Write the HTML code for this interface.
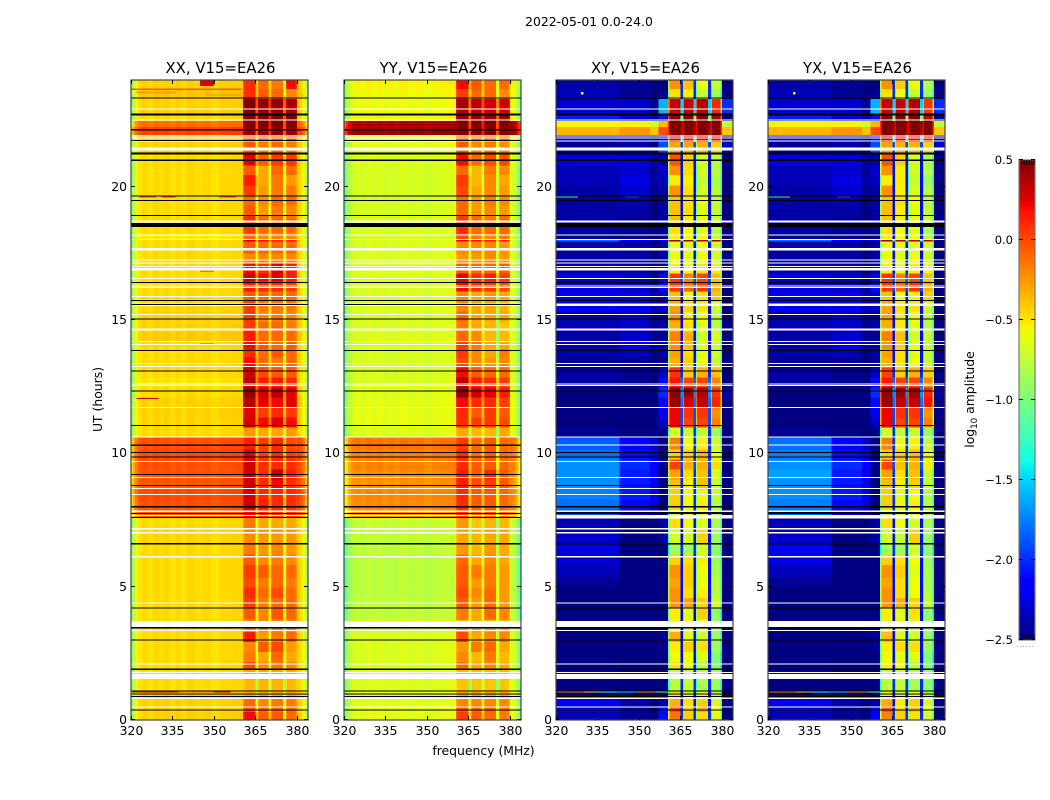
<!DOCTYPE html>
<html lang="en">
<head>
<meta charset="utf-8">
<title>2022-05-01 amplitude waterfall</title>
<style>
html,body{margin:0;padding:0;background:#fff;}
svg{display:block;}
text{font-family:"DejaVu Sans","Liberation Sans",sans-serif;fill:#000;}
</style>
</head>
<body>
<svg id="chart" xmlns="http://www.w3.org/2000/svg" width="1050" height="800" viewBox="0 0 1050 800">
  <text x="589" y="26" font-size="12.4" text-anchor="middle">2022-05-01 0.0-24.0</text>
  <text x="483.5" y="755" font-size="12.4" text-anchor="middle">frequency (MHz)</text>
  <text x="0" y="0" font-size="12.4" text-anchor="middle" transform="translate(102,399.5) rotate(-90)">UT (hours)</text>
  <text x="0" y="0" font-size="12.4" text-anchor="middle" transform="translate(974,399.5) rotate(-90)">log<tspan font-size="8.7" dy="3">10</tspan><tspan dy="-3"> amplitude</tspan></text>
</svg>
<script>
// ---- Axis data ----
const utEdges = [0,.30,.53,.83,1.05,1.50,1.88,2.18,2.55,2.93,3.30,3.76,4.21,4.58,4.96,5.33,5.82,6.20,6.61,7.13,7.59,7.89,8.26,8.64,9.01,9.39,9.76,10.14,10.59,10.97,11.34,11.72,12.09,12.47,12.84,13.22,13.59,13.89,14.19,14.57,14.95,15.32,15.70,16.07,16.45,16.75,17.12,17.50,17.95,18.03,18.25,18.48,18.93,19.30,19.68,20.05,20.43,20.80,21.22,21.67,21.93,22.23,22.46,22.68,23.28,23.66,24];
const freqEdges = [320,320.7,321.5,322.5,324,326,328,330,332,334,336,338,340,343,346,349,352,354,357,360.5,361,365,365.9,366.3,369.7,370.6,371,374.9,376,376.4,379.5,380,381,382,383,384];
const freqTicks = [320,335,350,365,380];
const utTicks = [0,5,10,15,20];
const colorbarTicks = [-2.5,-2,-1.5,-1,-0.5,0,0.5];

// Which per-row band each frequency column reads, and its bandpass offset
const parallelColumnBand = [0,0,0,0,0,0,0,0,0,0,0,0,0,0,0,0,0,0,0,1,1,1,2,2,2,3,3,3,4,4,4,0,0,0,0];
const parallelColumnOffset = [-.45,-.31,-.15,-.05,-.01,-.05,0,-.03,0,-.05,-.01,-.05,0,-.03,-.01,-.05,-.01,-.01,0,-.1,0,-.5,-.1,0,-.35,-.1,0,-.5,-.1,0,-.1,.02,-.03,-.15,-.35];
const crossColumnBand = [0,0,0,0,0,0,0,0,0,0,0,0,0,1,1,1,1,1,2,3,3,7,4,4,7,5,5,7,6,6,6,2,2,2,2];
const crossColumnOffset = [-.1,-.1,-.1,-.1,-.1,-.1,-.1,-.1,-.1,-.1,-.1,-.1,-.1,-.1,-.1,-.1,-.1,-.25,-.1,-.4,.12,0,-.3,.12,0,-.3,.12,0,-.3,.12,-.4,-.5,-.5,-.5,-.5];

// ---- Series: log10 amplitude per time block ----
// XX / YY rows: [low band, sub-band 1, 2, 3, 4]
const xxRows = [
[-.42,.2,-.05,-.05,-.1],[-.42,0,-.1,-.1,-.1],[-.42,-.1,-.2,-.15,-.15],[-.4,-.3,-.3,-.3,-.3],[-.45,-.35,-.35,-.35,-.35],
[-.45,-.3,-.3,-.3,-.3],[-.45,0,-.2,-.15,-.2],[-.45,-.15,-.3,-.1,-.3],[-.45,-.2,-.05,0,-.25],[-.45,.15,-.25,-.15,-.1],
[-.45,-.2,-.2,-.2,-.2],[-.45,-.05,-.2,-.05,-.1],[-.45,.05,-.15,-.1,-.1],[-.45,.1,-.1,0,-.1],[-.45,0,-.15,-.1,-.15],
[-.45,.05,-.05,-.1,-.1],[-.45,-.05,-.2,-.15,-.2],[-.45,-.15,-.25,-.2,-.25],[-.43,-.2,-.25,-.25,-.25],[-.45,-.15,-.3,-.3,-.3],
[-.05,.2,.1,.05,.05],[0,.3,.15,.1,.1],[.02,.3,.1,.1,.1],[-.02,.3,.1,.2,.1],[-.02,.3,.1,.3,.15],
[0,.3,.1,.1,.1],[.02,.25,.05,.1,.05],[0,.15,.05,.1,0],[-.45,-.25,-.3,-.3,-.25],[-.43,.3,.2,.25,.2],
[-.42,.25,.05,.1,.05],[-.42,.35,.25,.2,.25],[-.45,.45,.3,.35,.25],[-.48,.35,.15,.15,.1],[-.45,.3,0,-.05,-.05],
[-.45,.2,-.1,-.15,-.1],[-.45,.1,-.1,-.05,-.1],[-.45,.2,-.05,-.1,-.05],[-.4,.15,-.1,-.1,-.1],[-.42,.05,-.1,-.1,-.15],
[-.42,.05,-.2,-.15,-.2],[-.43,.05,-.15,-.15,-.15],[-.45,-.05,-.1,-.1,-.1],[-.45,.15,.1,.1,.05],[-.45,.3,.2,.25,.15],
[-.45,.2,.1,.25,.15],[-.45,-.2,-.2,-.2,-.2],[-.45,-.05,-.1,-.1,-.1],[-.45,.3,.2,.15,.15],[-.5,-.1,-.2,-.2,-.2],
[-.45,.05,-.1,-.1,-.1],[-.45,.1,-.1,-.1,-.1],[-.45,-.05,-.25,-.15,-.2],[-.45,-.1,-.2,-.1,-.1],[-.45,.05,-.25,-.15,-.15],
[-.45,.15,-.3,-.15,-.25],[-.45,-.05,-.3,-.1,-.1],[-.45,.25,-.05,.05,.05],[-.42,-.05,-.15,-.1,-.15],[-.4,0,0,0,0],
[.05,.45,.45,.45,.45],[-.1,.5,.5,.5,.5],[-.45,.5,.5,.5,.5],[-.42,.5,.45,.45,.4],[-.38,.1,-.05,-.1,-.2],[-.42,.1,-.1,-.15,.2]
];
const yyRows = [
[-.6,.05,-.05,-.1,-.15],[-.6,-.05,-.1,-.1,-.15],[-.6,-.2,-.2,-.2,-.2],[-.58,-.3,-.3,-.3,-.3],[-.62,-.4,-.4,-.4,-.4],
[-.62,-.35,-.35,-.35,-.35],[-.63,-.1,-.3,-.2,-.3],[-.63,-.2,-.35,-.15,-.35],[-.63,-.25,-.15,-.1,-.3],[-.63,0,-.3,-.2,-.2],
[-.66,-.3,-.3,-.3,-.3],[-.72,-.15,-.3,-.1,-.2],[-.72,-.05,-.25,-.1,-.25],[-.74,0,-.2,-.1,-.25],[-.74,-.05,-.25,-.15,-.25],
[-.74,-.05,-.15,-.15,-.25],[-.74,-.1,-.3,-.2,-.3],[-.74,-.25,-.35,-.25,-.3],[-.72,-.3,-.35,-.3,-.3],[-.7,-.25,-.4,-.35,-.35],
[-.22,.05,-.1,-.05,-.1],[-.19,.1,-.05,-.05,-.1],[-.17,.1,-.05,-.05,-.1],[-.22,.15,0,.05,-.05],[-.19,.15,-.05,.1,-.05],
[-.17,.1,-.05,-.05,-.1],[-.15,.1,-.1,-.05,-.1],[-.12,.05,-.1,-.05,-.1],[-.62,-.3,-.35,-.35,-.3],[-.6,.1,.05,.05,0],
[-.6,.1,-.05,.05,-.05],[-.6,.2,.1,.1,.05],[-.62,.45,.3,.25,.15],[-.64,.35,.15,.1,.05],[-.64,.2,-.05,-.1,-.1],
[-.65,0,-.2,-.25,-.2],[-.65,.05,-.2,-.3,-.15],[-.65,.05,-.15,-.3,-.3],[-.63,-.1,-.2,-.35,-.35],[-.63,-.15,-.3,-.35,-.4],
[-.63,-.1,-.3,-.3,-.3],[-.63,-.2,-.3,-.3,-.35],[-.63,-.2,-.3,-.25,-.3],[-.63,.2,.1,.05,0],[-.63,.25,.1,.15,.05],
[-.63,-.05,-.1,-.1,-.05],[-.63,-.25,-.25,-.2,-.25],[-.63,-.2,-.2,-.2,-.25],[-.63,.25,.2,.15,.15],[-.65,0,-.15,-.2,-.15],
[-.65,.1,-.1,-.1,-.1],[-.63,.05,-.1,-.15,-.1],[-.65,-.1,-.25,-.2,-.25],[-.65,-.1,-.25,-.15,-.2],[-.65,0,-.3,-.2,-.25],
[-.65,.05,-.35,-.2,-.3],[-.65,-.1,-.35,-.15,-.2],[-.63,.2,-.1,0,0],[-.6,-.05,-.2,-.15,-.2],[-.58,0,-.05,-.05,-.05],
[.45,.5,.5,.5,.5],[.4,.5,.5,.5,.5],[-.55,.45,.45,.45,.45],[-.57,.4,.35,.3,.3],[-.55,.05,-.1,-.1,-.2],[-.53,.2,-.05,-.1,-.1]
];
// XY / YX rows: [low-left, low-mid, low-right, sub-band 1, 2, 3, 4, band gaps]
const xyRows = [
[-2.25,-2.35,-2,-.25,-.55,-.6,-.75,-2],[-2.2,-2.3,-2,-.15,-.55,-.45,-.7,-2],[-2.1,-2.3,-2.3,-.45,-.6,-.55,-.8,-2.1],[-2.35,-2.45,-2.45,-.6,-.8,-.7,-.9,-2.1],[-2.4,-2.45,-2.45,-.9,-.85,-.95,-1,-2],
[-2.25,-2.45,-2.45,-.9,-.85,-.95,-1,-2],[-2.4,-2.45,-2.45,-.6,-.7,-.9,-1.1,-2.1],[-2.4,-2.45,-2.4,-.7,-.7,-.75,-1.1,-2.1],[-2.45,-2.4,-2.35,-.65,-.55,-.6,-1,-2.1],[-2.45,-2.4,-2.35,-.45,-.75,-.8,-1,-2.1],
[-2.45,-2.45,-2.45,-.7,-.7,-.7,-1,-2.2],[-2.45,-2.45,-2.45,-.65,-.75,-.55,-1.05,-2.2],[-2.45,-2.45,-2.45,-.35,-.4,-.55,-.8,-2.1],[-2.4,-2.45,-2.45,-.35,-.6,-.65,-.9,-2.1],[-2.35,-2.45,-2.45,-.4,-.55,-.7,-.9,-2.1],
[-2.25,-2.45,-2.45,-.35,-.55,-.7,-.95,-2.1],[-2.2,-2.45,-2.45,-.55,-.6,-.65,-1,-2.1],[-2.15,-2.45,-2.4,-1,-1,-.8,-1.05,-2],[-2.2,-2.4,-2.3,-.8,-.8,-.55,-1,-2.1],[-2.25,-2.4,-2.3,-.6,-.7,-.75,-.95,-2.1],
[-1.75,-2,-2.4,-.85,-.75,-.7,-.9,-2],[-1.7,-2,-2.4,-.55,-.7,-.65,-.9,-2],[-1.65,-1.95,-2.4,-.55,-.7,-.7,-.85,-2],[-1.6,-1.95,-2.4,-.5,-.65,-.5,-.85,-2],[-1.6,-1.95,-2.4,-.4,-.6,-.5,-.8,-2],
[-1.6,-1.9,-2.35,-.1,-.45,-.45,-.6,-1.9],[-1.7,-2,-2.4,-.55,-.55,-.45,-.7,-2],[-1.75,-2.05,-2.4,-.3,-.7,-.65,-.8,-2],[-2.35,-2.4,-2.4,-.8,-.85,-.85,-1,-2],[-2.45,-2.45,-2.2,.1,-.1,-.1,-.3,-1.9],
[-2.45,-2.45,-2.1,.1,-.05,-.05,-.35,-1.9],[-2.45,-2.4,-2,.3,.15,.2,0,-1.8],[-2.4,-2.4,-1.9,.35,.3,.25,-.05,-1.7],[-2.3,-2.35,-2,.05,-.1,-.1,-.3,-1.8],[-2.3,-2.35,-2.2,-.05,-.55,-.45,-.5,-2],
[-2.35,-2.35,-2.35,-.45,-.55,-.7,-.85,-2.1],[-2.3,-2.25,-2.3,-.4,-.6,-.75,-.8,-2.1],[-2.25,-2.15,-2.3,-.35,-.5,-.75,-.85,-2.1],[-2.3,-2.2,-2.35,-.3,-.45,-.8,-.8,-2.1],[-2.25,-2.2,-2.3,-.45,-.6,-.75,-.9,-2.1],
[-2.3,-2.2,-2.35,-.35,-.65,-.7,-.9,-2.1],[-2.05,-2.1,-2.2,-.4,-.55,-.6,-.8,-2.1],[-2.1,-2.1,-2.2,-.5,-.7,-.6,-.5,-2.1],[-2.15,-2.2,-2,-.05,-.2,-.05,-.45,-1.9],[-2.15,-2.2,-2.1,-.05,-.3,-.1,-.5,-1.9],
[-2.25,-2.3,-2.3,-.65,-.7,-.6,-.65,-2.1],[-2.3,-2.3,-2.3,-.7,-.75,-.7,-.8,-2.1],[-2.3,-2.3,-2.3,-.7,-.75,-.7,-.8,-2.1],[-1.7,-2.1,-2.2,.35,.3,.25,.3,-1.2],[-2.35,-2.35,-2.35,-.65,-.7,-.7,-.85,-2.1],
[-2.3,-2.35,-2.35,-.6,-.7,-.75,-.9,-2.1],[-2.3,-2.35,-2.3,-.5,-.65,-.7,-.85,-2.1],[-2.3,-2.3,-2.3,-.5,-.6,-.75,-.85,-2.1],[-2.3,-2.25,-2.3,-.5,-.6,-.7,-.85,-2.1],[-2.3,-2.2,-2.3,-.35,-.6,-.8,-.9,-2.1],
[-2.25,-2.15,-2.25,-.65,-.65,-.85,-.95,-2.1],[-2.25,-2.2,-2.2,-.35,-.6,-.8,-.9,-2.1],[-2.15,-2.15,-2.3,-.15,-.55,-.8,-.9,-2.1],[-2.35,-2.3,-1.8,-.4,-.4,-.45,-.55,-1.9],[-2.2,-2.2,-2,.2,.1,.1,.1,-1.2],
[-.25,-.15,.1,.5,.5,.5,.5,.35],[-.45,-.45,-.25,.5,.5,.5,.5,.4],[-1.95,-2.15,-2,.4,.4,.4,.3,-1],[-2.2,-2.2,-1.5,.2,.2,.25,0,-1.5],[-2.25,-2.35,-2.35,-.6,-.65,-.85,-1,-2],[-2.3,-2.35,-2.4,-.35,-.5,-.7,-.85,-2]
];
const yxRows = [
[-2.25,-2.35,-2.05,-.3,-.55,-.6,-.8,-2],[-2.2,-2.3,-2.05,-.2,-.55,-.5,-.7,-2],[-2.1,-2.3,-2.3,-.45,-.65,-.55,-.8,-2.1],[-2.35,-2.45,-2.45,-.65,-.8,-.7,-.9,-2.1],[-2.4,-2.45,-2.45,-.9,-.85,-.95,-1.05,-2],
[-2.25,-2.45,-2.45,-.9,-.85,-.95,-1.05,-2],[-2.4,-2.45,-2.45,-.65,-.7,-.9,-1.1,-2.1],[-2.4,-2.45,-2.4,-.7,-.75,-.75,-1.1,-2.1],[-2.45,-2.4,-2.35,-.65,-.6,-.6,-1,-2.1],[-2.45,-2.4,-2.35,-.5,-.75,-.8,-1,-2.1],
[-2.45,-2.45,-2.45,-.7,-.7,-.75,-1,-2.2],[-2.45,-2.45,-2.45,-.65,-.75,-.6,-1.05,-2.2],[-2.45,-2.45,-2.45,-.35,-.45,-.55,-.85,-2.1],[-2.4,-2.45,-2.45,-.35,-.6,-.7,-.9,-2.1],[-2.35,-2.45,-2.45,-.4,-.6,-.7,-.95,-2.1],
[-2.25,-2.45,-2.45,-.35,-.55,-.75,-.95,-2.1],[-2.15,-2.45,-2.45,-.55,-.6,-.7,-1,-2.1],[-2.1,-2.45,-2.4,-1,-1,-.8,-1.05,-2],[-2.2,-2.4,-2.3,-.8,-.85,-.55,-1,-2.1],[-2.25,-2.4,-2.3,-.6,-.7,-.8,-.95,-2.1],
[-1.7,-2,-2.4,-.85,-.8,-.7,-.95,-2],[-1.65,-2,-2.4,-.55,-.7,-.65,-.9,-2],[-1.6,-1.95,-2.4,-.55,-.75,-.7,-.9,-2],[-1.6,-1.95,-2.4,-.5,-.65,-.55,-.85,-2],[-1.55,-1.95,-2.4,-.4,-.6,-.5,-.85,-2],
[-1.6,-1.9,-2.35,-.1,-.5,-.45,-.65,-1.9],[-1.65,-2,-2.4,-.55,-.55,-.5,-.7,-2],[-1.7,-2.05,-2.4,-.3,-.7,-.65,-.85,-2],[-2.35,-2.4,-2.4,-.8,-.85,-.85,-1,-2],[-2.45,-2.45,-2.2,.1,-.1,-.1,-.3,-1.9],
[-2.45,-2.45,-2.1,.1,-.05,-.05,-.35,-1.9],[-2.45,-2.4,-2,.3,.2,.2,.05,-1.8],[-2.4,-2.4,-1.9,.35,.3,.3,0,-1.7],[-2.3,-2.35,-2,.05,-.1,-.1,-.3,-1.8],[-2.3,-2.35,-2.2,-.1,-.55,-.45,-.55,-2],
[-2.35,-2.35,-2.35,-.45,-.6,-.7,-.85,-2.1],[-2.3,-2.25,-2.3,-.4,-.6,-.75,-.85,-2.1],[-2.25,-2.15,-2.3,-.35,-.55,-.75,-.85,-2.1],[-2.3,-2.2,-2.35,-.3,-.5,-.8,-.85,-2.1],[-2.25,-2.2,-2.3,-.45,-.65,-.75,-.9,-2.1],
[-2.3,-2.2,-2.35,-.4,-.65,-.7,-.9,-2.1],[-2.05,-2.1,-2.2,-.4,-.6,-.6,-.8,-2.1],[-2.1,-2.1,-2.2,-.5,-.7,-.65,-.55,-2.1],[-2.15,-2.2,-2,-.05,-.2,-.05,-.45,-1.9],[-2.15,-2.2,-2.1,-.05,-.3,-.1,-.5,-1.9],
[-2.25,-2.3,-2.3,-.65,-.7,-.65,-.7,-2.1],[-2.3,-2.3,-2.3,-.7,-.75,-.7,-.8,-2.1],[-2.3,-2.3,-2.3,-.7,-.75,-.75,-.8,-2.1],[-1.7,-2.1,-2.2,.35,.3,.25,.25,-1.2],[-2.35,-2.35,-2.35,-.65,-.7,-.7,-.9,-2.1],
[-2.3,-2.35,-2.35,-.6,-.7,-.75,-.95,-2.1],[-2.3,-2.35,-2.3,-.5,-.65,-.75,-.85,-2.1],[-2.3,-2.3,-2.3,-.5,-.65,-.75,-.85,-2.1],[-2.3,-2.25,-2.3,-.5,-.6,-.7,-.9,-2.1],[-2.3,-2.2,-2.3,-.35,-.65,-.8,-.9,-2.1],
[-2.25,-2.15,-2.25,-.65,-.65,-.85,-1,-2.1],[-2.25,-2.2,-2.2,-.35,-.65,-.8,-.9,-2.1],[-2.15,-2.15,-2.3,-.15,-.55,-.8,-.95,-2.1],[-2.35,-2.3,-1.8,-.4,-.45,-.45,-.55,-1.9],[-2.2,-2.2,-2,.2,.1,.1,.05,-1.2],
[-.25,-.15,.1,.5,.5,.5,.5,.35],[-.45,-.45,-.25,.5,.5,.5,.5,.4],[-1.95,-2.15,-2,.4,.4,.4,.25,-1],[-2.2,-2.2,-1.5,.2,.2,.25,-.05,-1.5],[-2.25,-2.35,-2.35,-.6,-.7,-.85,-1,-2],[-2.3,-2.35,-2.4,-.35,-.55,-.7,-.9,-2]
];

// Narrow RFI features: [UT low, UT high, freq low, freq high, value]
const xxStreaks = [[1.03,1.07,337,350,-.15],[1.03,1.07,320.5,337,.35],[1.03,1.07,350,356,.3],[19.6,19.65,323,329,.05],[19.6,19.65,331,336,.1],[19.6,19.65,352,358,.05],[23.63,23.68,320,360,-.05],[23.52,23.56,322,336,-.25],[23.42,23.46,347,360,-.2],[23.78,24,345,350,.25],[12.03,12.07,322,330,.3],[16.8,16.85,345,350,-.15],[14.1,14.14,345,350,-.25]];
const yyStreaks = [];
const xyStreaks = [[1.03,1.08,320.5,330,-.1],[1.03,1.08,330,335,-.4],[1.03,1.08,335,342,-1.3],[1.03,1.08,342,349,-1.5],[1.03,1.08,349,356,-.15],[1.03,1.08,356,360.5,-1.2],[19.6,19.65,320,328,-1.4],[19.6,19.65,345,350,-1.9],[23.45,23.55,329,330,-.6]];
const yxStreaks = [[1.03,1.08,320.5,330,-.1],[1.03,1.08,330,335,-.4],[1.03,1.08,335,342,-1.3],[1.03,1.08,342,349,-1.5],[1.03,1.08,349,356,-.15],[1.03,1.08,356,360.5,-1.2],[19.6,19.65,320,328,-1.4],[19.6,19.65,345,350,-1.9],[23.45,23.55,329,330,-.6]];

// Flagged time ranges, UT hours
const whiteLinesUT = [.488,.815,1.784,2.103,3.361,4.394,6.121,7.022,7.172,7.672,7.829,8.449,8.674,9.087,9.688,10.616,11.716,12.542,12.598,13.256,13.368,14.082,14.195,15.208,15.884,16.222,16.279,16.56,17.01,17.142,17.247,18.025,18.186,21.705,21.818,21.904,22.508,22.906];
const whiteBandsUT = [[1.54,1.73],[3.49,3.72],[14.6,14.69],[15.52,15.62],[16.85,16.95],[17.6,17.7],[18.66,18.74],[21.35,21.46]];
const sharedBlackLinesUT = [.376,.875,.976,1.089,1.904,2.993,4.206,6.609,7.998,8.787,9.865,10.026,11.04,12.343,13.094,13.857,15.039,15.734,16.41,18.926,19.489,19.658,20.991,23.32];
const sharedBlackBandsUT = [[3.43,3.48],[18.48,18.63],[21.21,21.29],[22.66,22.74]];
const parallelBlackLinesUT = [7.597,7.747,9.2,10.304,15.584,21.724];
const parallelBlackBandsUT = [[22.1,22.17]];
const crossBlackLinesUT = [];
const crossBlackBandsUT = [[7.72,7.8]];
const crossWhiteBandsUT = [[7.55,7.65],[10.29,10.33]];

const panelTitles = ['XX, V15=EA26','YY, V15=EA26','XY, V15=EA26','YX, V15=EA26'];
const panelRows = [xxRows,yyRows,xyRows,yxRows];
const panelStreaks = [xxStreaks,yyStreaks,xyStreaks,yxStreaks];
const panelIds = ['xx','yy','xy','yx'];

// ---- Layout + scales ----
const panelLefts = [131,344,556,768];
const panelWidth = 177;
const plotTop = 80, plotBottom = 720;
const FMIN = 320, FMAX = 384, UTMAX = 24;
const VMIN = -2.5, VMAX = .5;
const NS = 'http://www.w3.org/2000/svg';
const svg = document.getElementById('chart');

function xScale(f, left){ return left + (f - FMIN) / (FMAX - FMIN) * panelWidth; }
function yScale(ut){ return plotBottom - ut / UTMAX * (plotBottom - plotTop); }
function clamp01(v){ return Math.max(0, Math.min(1, v)); }
function jet(v){
  const t = clamp01((v - VMIN) / (VMAX - VMIN));
  let r = t < .35 ? 0 : t < .66 ? (t - .35) / .31 : t < .89 ? 1 : 1 - (t - .89) / .11 * .5;
  let g = t < .125 ? 0 : t < .375 ? (t - .125) / .25 : t < .64 ? 1 : t < .91 ? 1 - (t - .64) / .27 : 0;
  let b = t < .11 ? .5 + t / .11 * .5 : t < .34 ? 1 : t < .65 ? 1 - (t - .34) / .31 : 0;
  return 'rgb(' + Math.round(r * 255) + ',' + Math.round(g * 255) + ',' + Math.round(b * 255) + ')';
}
function svgEl(tag, parent){
  const el = document.createElementNS(NS, tag);
  parent.appendChild(el);
  return el;
}
function box(parent, x, y, w, h, fill){
  const el = svgEl('rect', parent);
  el.setAttribute('x', x.toFixed(2));
  el.setAttribute('y', y.toFixed(2));
  el.setAttribute('width', w.toFixed(2));
  el.setAttribute('height', h.toFixed(2));
  el.setAttribute('fill', fill);
  el.setAttribute('shape-rendering', 'crispEdges');
  return el;
}
function segment(parent, x1, y1, x2, y2, color){
  const el = svgEl('line', parent);
  el.setAttribute('x1', x1);
  el.setAttribute('y1', y1);
  el.setAttribute('x2', x2);
  el.setAttribute('y2', y2);
  el.setAttribute('stroke', color);
  el.setAttribute('stroke-width', '1');
  el.setAttribute('shape-rendering', 'crispEdges');
  return el;
}
function label(parent, x, y, content, size, anchor){
  const el = svgEl('text', parent);
  el.setAttribute('x', x);
  el.setAttribute('y', y);
  el.setAttribute('font-size', size);
  el.setAttribute('text-anchor', anchor);
  el.textContent = content;
  return el;
}
function lineHalf(ut){ return [ut - .02, ut + .02]; }
function flag(parent, low, high, left, fill){
  const top = yScale(high);
  const h = Math.max(yScale(low) - top, 1);
  return box(parent, left, top, panelWidth, h, fill);
}

panelTitles.forEach(function(title, p){
  const left = panelLefts[p];
  const cross = p >= 2;
  const rows = panelRows[p];
  const columnBand = cross ? crossColumnBand : parallelColumnBand;
  const columnOffset = cross ? crossColumnOffset : parallelColumnOffset;

  const g = svgEl('g', svg);
  
  

  const heat = svgEl('g', g);
  
  
  rows.forEach(function(row, r){
    const top = yScale(utEdges[r + 1]);
    const h = yScale(utEdges[r]) - top;
    columnBand.forEach(function(band, c){
      const x0 = xScale(freqEdges[c], left);
      const x1 = xScale(freqEdges[c + 1], left);
      const cell = box(heat, x0, top, x1 - x0, h, jet(row[band] + columnOffset[c]));
      
      
    });
  });
  panelStreaks[p].forEach(function(s){
    const sx = xScale(s[2], left);
    const sy = yScale(s[1]);
    const streak = box(heat, sx, sy, xScale(s[3], left) - sx, Math.max(yScale(s[0]) - sy, 1), jet(s[4]));
    
    
  });

  const flags = svgEl('g', g);
  
  
  const whites = whiteLinesUT.map(lineHalf).concat(whiteBandsUT, cross ? crossWhiteBandsUT : []);
  whites.forEach(function(w){
    const m = flag(flags, w[0], w[1], left, '#fff');
    
    
  });
  const blacks = sharedBlackLinesUT.map(lineHalf)
    .concat(sharedBlackBandsUT)
    .concat((cross ? crossBlackLinesUT : parallelBlackLinesUT).map(lineHalf))
    .concat(cross ? crossBlackBandsUT : parallelBlackBandsUT);
  blacks.forEach(function(w){
    const m = flag(flags, w[0], w[1], left, '#000');
    
    
  });

  const frame = box(g, left, plotTop, panelWidth, plotBottom - plotTop, 'none');
  frame.setAttribute('stroke', '#444');
  frame.setAttribute('stroke-width', '1.2');
  frame.setAttribute('shape-rendering', 'auto');
  
  

  freqTicks.forEach(function(f){
    const x = Math.round(xScale(f, left)) + .5;
    const bottomTick = segment(g, x, plotBottom, x, plotBottom - 4, '#000');
    
    
    const topTick = segment(g, x, plotTop, x, plotTop + 4, '#000');
    
    
    const text = label(g, x, 735, String(f), 12.4, 'middle');
    
    
  });
  utTicks.forEach(function(u){
    const y = Math.round(yScale(u)) - .5;
    const leftTick = segment(g, left, y, left + 4, y, '#000');
    
    
    const rightTick = segment(g, left + panelWidth, y, left + panelWidth - 4, y, '#000');
    
    
    const text = label(g, left - 4, y + 4.5, String(u), 12.4, 'end');
    
    
  });
  const t = label(g, left + panelWidth / 2 + 1, 73, title, 14.9, 'middle');
  
  
});

// ---- Colorbar ----
const cbLeft = 1019, cbWidth = 16, cbTop = 160, cbBottom = 640;
function cbScale(v){ return cbBottom - (v - VMIN) / (VMAX - VMIN) * (cbBottom - cbTop); }
const cbGroup = svgEl('g', svg);


const defs = svgEl('defs', cbGroup);
const grad = svgEl('linearGradient', defs);
grad.setAttribute('id', 'jet-gradient');
grad.setAttribute('x1', '0');
grad.setAttribute('y1', '1');
grad.setAttribute('x2', '0');
grad.setAttribute('y2', '0');
for (let i = 0; i <= 64; i++) {
  const stop = svgEl('stop', grad);
  stop.setAttribute('offset', (i / 64).toFixed(4));
  stop.setAttribute('stop-color', jet(VMIN + (VMAX - VMIN) * i / 64));
}
const cbBar = box(cbGroup, cbLeft, cbTop, cbWidth, cbBottom - cbTop, 'url(#jet-gradient)');


const cbFrame = box(cbGroup, cbLeft, cbTop, cbWidth, cbBottom - cbTop, 'none');
cbFrame.setAttribute('stroke', '#777');
cbFrame.setAttribute('stroke-width', '1.2');
cbFrame.setAttribute('shape-rendering', 'auto');


colorbarTicks.forEach(function(v){
  const y = Math.round(cbScale(v)) - .5;
  const leftTick = segment(cbGroup, cbLeft, y, cbLeft + 4, y, '#000');
  
  
  const rightTick = segment(cbGroup, cbLeft + cbWidth, y, cbLeft + cbWidth - 4, y, '#000');
  
  
  const text = label(cbGroup, cbLeft - 6, y + 4.5, v.toFixed(1).replace('-', '\u2212'), 11.5, 'end');
  
  
});
[0,1,2,3,4,5].forEach(function(i){
  const x = cbLeft + 2.5 + i * 2.5;
  const a = segment(cbGroup, x, cbTop, x, cbTop + 5, '#000');
  
  
  const b = segment(cbGroup, x, cbBottom, x, cbBottom - 5, '#000');
  
  
});
const dots = segment(cbGroup, cbLeft - 2, 646.5, cbLeft + cbWidth, 646.5, '#aaa');
dots.setAttribute('stroke-dasharray', '1 2');


</script>
</body>
</html>
